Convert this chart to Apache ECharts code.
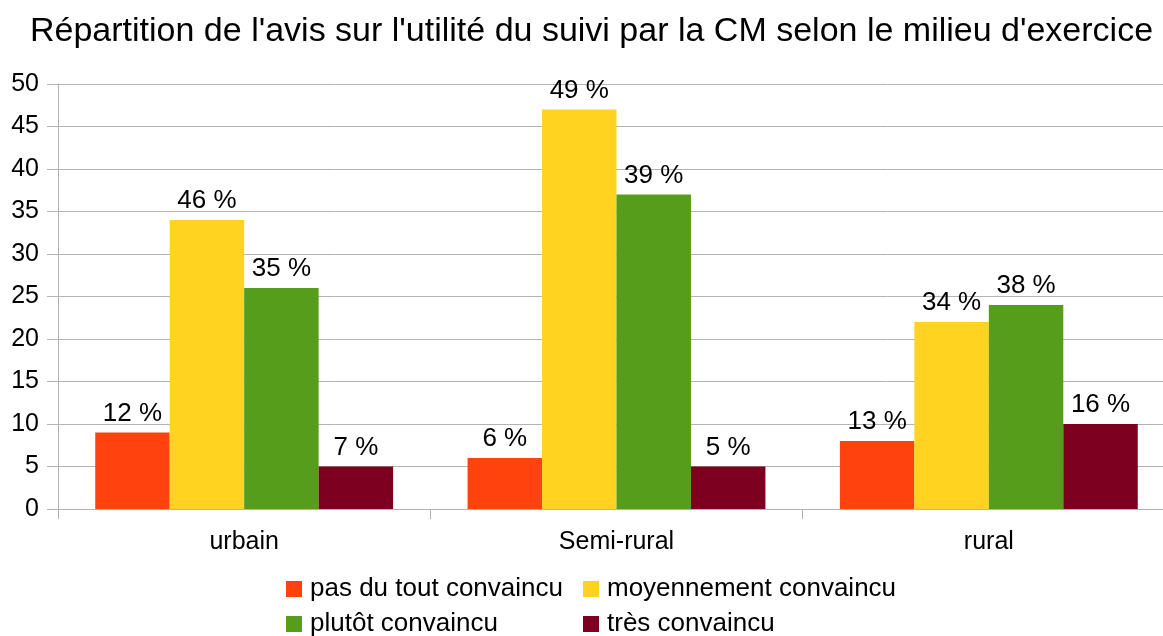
<!DOCTYPE html>
<html>
<head>
<meta charset="utf-8">
<script src="https://cdn.jsdelivr.net/npm/echarts@6/dist/echarts.min.js"></script>
<style>
  html, body { margin: 0; padding: 0; background: #fff; }
  #main { width: 1163px; height: 636px; }
</style>
</head>
<body>
<div id="main"></div>
<script>
var categories = ['urbain', 'Semi-rural', 'rural'];
var seriesNames = ['pas du tout convaincu', 'moyennement convaincu', 'plutôt convaincu', 'très convaincu'];
var pasDuTout = [9, 6, 8];
var moyennement = [34, 47, 22];
var plutot = [26, 37, 24];
var tres = [5, 5, 10];
// percentage labels shown above the bars
var pasDuToutPct = ['12 %', '6 %', '13 %'];
var moyennementPct = ['46 %', '49 %', '34 %'];
var plutotPct = ['35 %', '39 %', '38 %'];
var tresPct = ['7 %', '5 %', '16 %'];
var colors = ['#ff420e', '#ffd320', '#579d1c', '#7e0021'];

var font = 'Liberation Sans';

function makeSeries(i, values, pcts) {
    return {
        name: seriesNames[i],
        type: 'bar',
        barGap: '0%',
        barCategoryGap: '20%',
        itemStyle: { color: colors[i] },
        data: values,
        label: {
            show: true,
            position: 'top',
            distance: 6,
            color: '#000',
            fontFamily: font,
            fontSize: 26,
            formatter: function (p) { return pcts[p.dataIndex]; }
        }
    };
}

function makeLegend(left, names) {
    return {
        orient: 'vertical',
        left: left,
        top: 571,
        height: 80,
        itemWidth: 16,
        itemHeight: 16,
        itemGap: 9,
        icon: 'rect',
        data: names,
        textStyle: { fontFamily: font, fontSize: 26, color: '#000', padding: [0, 0, 0, 3] }
    };
}

var myChart = echarts.init(document.getElementById('main'));
var option = {
    animation: false,
    title: {
        text: "Répartition de l'avis sur l'utilité du suivi par la CM selon le milieu d'exercice",
        left: 25,
        top: 10,
        textStyle: { fontFamily: font, fontSize: 34, fontWeight: 'normal', color: '#000' }
    },
    legend: [
        makeLegend(281, [seriesNames[0], seriesNames[2]]),
        makeLegend(578, [seriesNames[1], seriesNames[3]])
    ],
    // the plot area runs a little past the right edge of the picture
    grid: { left: 58, top: 84, width: 1117, height: 425, outerBoundsMode: 'none' },
    xAxis: {
        type: 'category',
        data: categories,
        axisLine: { lineStyle: { color: '#b3b3b3' } },
        axisTick: { show: true, length: 10, lineStyle: { color: '#b3b3b3' } },
        axisLabel: { fontFamily: font, fontSize: 25, color: '#000', margin: 21 }
    },
    yAxis: {
        type: 'value',
        min: 0,
        max: 50,
        interval: 5,
        axisLine: { show: true, lineStyle: { color: '#b3b3b3' } },
        axisTick: { show: true, length: 11, lineStyle: { color: '#b3b3b3' } },
        splitLine: { lineStyle: { color: '#b3b3b3' } },
        axisLabel: { fontFamily: font, fontSize: 25, color: '#000', margin: 19 }
    },
    series: [
        makeSeries(0, pasDuTout, pasDuToutPct),
        makeSeries(1, moyennement, moyennementPct),
        makeSeries(2, plutot, plutotPct),
        makeSeries(3, tres, tresPct)
    ]
};
myChart.setOption(option);
</script>
</body>
</html>
